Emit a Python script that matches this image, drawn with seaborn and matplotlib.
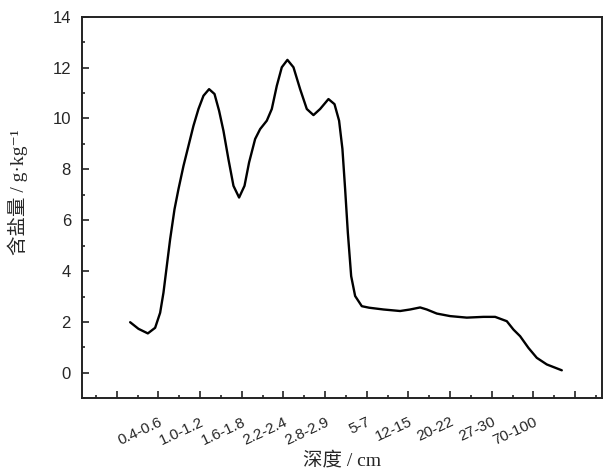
import numpy as np
import pandas as pd
import matplotlib
matplotlib.use("Agg")
import matplotlib.pyplot as plt
import seaborn as sns
from matplotlib.ticker import MultipleLocator

# Puntos (posición en el eje x, contenido de sal)
pos = [2.64, 3.04, 3.49, 3.84, 4.08, 4.24, 4.40, 4.56, 4.77, 4.96,
       5.20, 5.44, 5.68, 5.92, 6.16, 6.43, 6.69, 6.91, 7.12, 7.36,
       7.60, 7.87, 8.13, 8.35, 8.64, 8.88, 9.20, 9.44, 9.68, 9.92,
       10.19, 10.48, 10.80, 11.12, 11.44, 11.76, 12.16, 12.45, 12.67, 12.83,
       12.96, 13.09, 13.25, 13.44, 13.76, 14.11, 14.80, 15.60, 16.08, 16.56,
       16.88, 17.36, 18.00, 18.80, 19.60, 20.16, 20.72, 21.04, 21.36, 21.76,
       22.16, 22.64, 23.36]
salt = [1.99, 1.73, 1.55, 1.77, 2.36, 3.15, 4.20, 5.25, 6.43, 7.22,
        8.13, 8.92, 9.71, 10.37, 10.89, 11.15, 10.96, 10.30, 9.51, 8.39,
        7.35, 6.89, 7.35, 8.27, 9.19, 9.58, 9.91, 10.37, 11.28, 12.01,
        12.30, 12.01, 11.15, 10.37, 10.13, 10.37, 10.76, 10.56, 9.91, 8.80,
        7.22, 5.51, 3.80, 3.02, 2.62, 2.56, 2.49, 2.43, 2.49, 2.57,
        2.49, 2.33, 2.23, 2.17, 2.20, 2.20, 2.03, 1.70, 1.44, 0.98,
        0.59, 0.33, 0.10]

tick_pos = [4, 6, 8, 10, 12, 14, 16, 18, 20, 22]
tick_labels = ["0.4-0.6", "1.0-1.2", "1.6-1.8", "2.2-2.4", "2.8-2.9",
               "5-7", "12-15", "20-22", "27-30", "70-100"]

df = pd.DataFrame({"pos": pos, "salt": salt})

sns.set_style("ticks")
plt.rcParams["font.family"] = ["Liberation Sans", "Noto Sans CJK SC"]

fig = plt.figure(figsize=(6.12, 4.75), dpi=100)
ax = fig.add_axes([0.134, 0.1615, 0.850, 0.8035])

sns.lineplot(data=df, x="pos", y="salt", sort=False, color="black",
             linewidth=1.7, ax=ax)
ax.lines[0].set_solid_joinstyle("round")
ax.lines[0].set_solid_capstyle("round")

ax.set_xlim(0.33, 25.3)
ax.set_ylim(-1, 14)

ax.xaxis.set_minor_locator(MultipleLocator(1))
ax.set_xticks([2] + tick_pos + [24])
ax.set_xticklabels([""] + tick_labels + [""])
ax.yaxis.set_major_locator(MultipleLocator(2))
ax.yaxis.set_minor_locator(MultipleLocator(1))

ax.tick_params(which="both", direction="in", top=False, right=False,
               width=1.2, color="#222222")
ax.tick_params(which="major", length=5)
ax.tick_params(which="minor", length=2.5)
ax.tick_params(axis="y", labelsize=12, pad=8)
ax.tick_params(axis="x", labelsize=11, pad=12)
for lab in ax.get_xticklabels():
    lab.set_rotation(25)
    lab.set_ha("right")
    lab.set_rotation_mode("anchor")

for sp in ax.spines.values():
    sp.set_visible(True)
    sp.set_linewidth(1.4)
    sp.set_color("#222222")

cjk_serif = ["Liberation Serif", "DejaVu Serif", "Noto Sans CJK SC"]
ax.set_xlabel("深度 / cm", family=cjk_serif, fontsize=14, labelpad=3)
ax.set_ylabel("含盐量 / g·kg⁻¹", family=cjk_serif, fontsize=14)
ax.yaxis.set_label_coords(-0.103, 0.54)

fig.savefig("out.png", dpi=100)
plt.close(fig)
